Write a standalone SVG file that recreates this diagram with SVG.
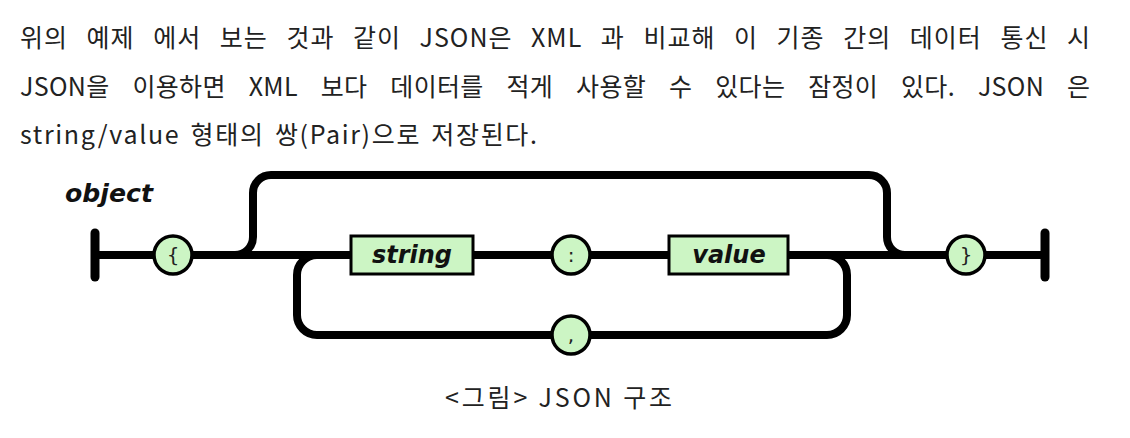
<svg xmlns="http://www.w3.org/2000/svg" width="1130" height="438" viewBox="0 0 1130 438">
<style>
.para{font-family:"Noto Sans CJK KR","Noto Sans",sans-serif;font-size:25px;fill:#222;}
.track{fill:none;stroke:#000;stroke-width:8;stroke-linecap:round;stroke-linejoin:round;}
.term{stroke:#000;stroke-width:9;stroke-linecap:round;}
.box{fill:#ccf5c4;stroke:#000;stroke-width:3;}
.circ{fill:#ccf5c4;stroke:#000;stroke-width:3.5;}
.lbl{font-family:"DejaVu Sans",sans-serif;font-weight:bold;font-style:italic;font-size:24px;fill:#111;}
.sym{font-family:"DejaVu Sans",sans-serif;font-size:20px;fill:#222;text-anchor:middle;}
</style>
<rect width="1130" height="438" fill="#fff"/>
<g id="paragraph">
<text class="para" x="20" y="47" word-spacing="12" textLength="1070" lengthAdjust="spacing">위의 예제 에서 보는 것과 같이 JSON은 XML 과 비교해 이 기종 간의 데이터 통신 시</text>
<text class="para" x="20" y="96" word-spacing="17" textLength="1070" lengthAdjust="spacing">JSON을 이용하면 XML 보다 데이터를 적게 사용할 수 있다는 잠정이 있다. JSON 은</text>
<text class="para" x="20" y="144" word-spacing="3" textLength="517" lengthAdjust="spacing">string/value 형태의 쌍(Pair)으로 저장된다.</text>
</g>
<g id="title"><text class="lbl" x="65" y="202" textLength="88" lengthAdjust="spacingAndGlyphs">object</text></g>
<g id="connectors">
<path class="track" d="M95 255 L1045 255"/>
<path class="track" d="M235 255 A18 18 0 0 0 253 237 L253 193 A18 18 0 0 1 271 175 L869 175 A18 18 0 0 1 887 193 L887 237 A18 18 0 0 0 905 255"/>
<path class="track" d="M317 255 A20 20 0 0 0 297 275 L297 315 A20 20 0 0 0 317 335 L827 335 A20 20 0 0 0 847 315 L847 275 A20 20 0 0 0 827 255"/>
</g>
<g id="start"><line class="term" x1="95" y1="233" x2="95" y2="277"/></g>
<g id="end"><line class="term" x1="1045" y1="233" x2="1045" y2="277"/></g>
<g id="open-brace"><circle class="circ" cx="173" cy="255" r="19"/><text class="sym" x="173" y="262">{</text></g>
<g id="string"><rect class="box" x="351" y="236" width="122" height="38"/><text class="lbl" x="412" y="263" text-anchor="middle">string</text></g>
<g id="colon"><circle class="circ" cx="571" cy="255" r="19"/><text class="sym" x="571" y="262">:</text></g>
<g id="value"><rect class="box" x="669" y="236" width="119" height="38"/><text class="lbl" x="729" y="263" text-anchor="middle">value</text></g>
<g id="close-brace"><circle class="circ" cx="966" cy="255" r="19"/><text class="sym" x="966" y="262">}</text></g>
<g id="comma"><circle class="circ" cx="571" cy="335" r="19"/><text class="sym" x="571" y="342">,</text></g>
<g id="caption"><text class="para" x="445" y="407" textLength="227" lengthAdjust="spacing">&lt;그림&gt; JSON  구조</text></g>
</svg>
